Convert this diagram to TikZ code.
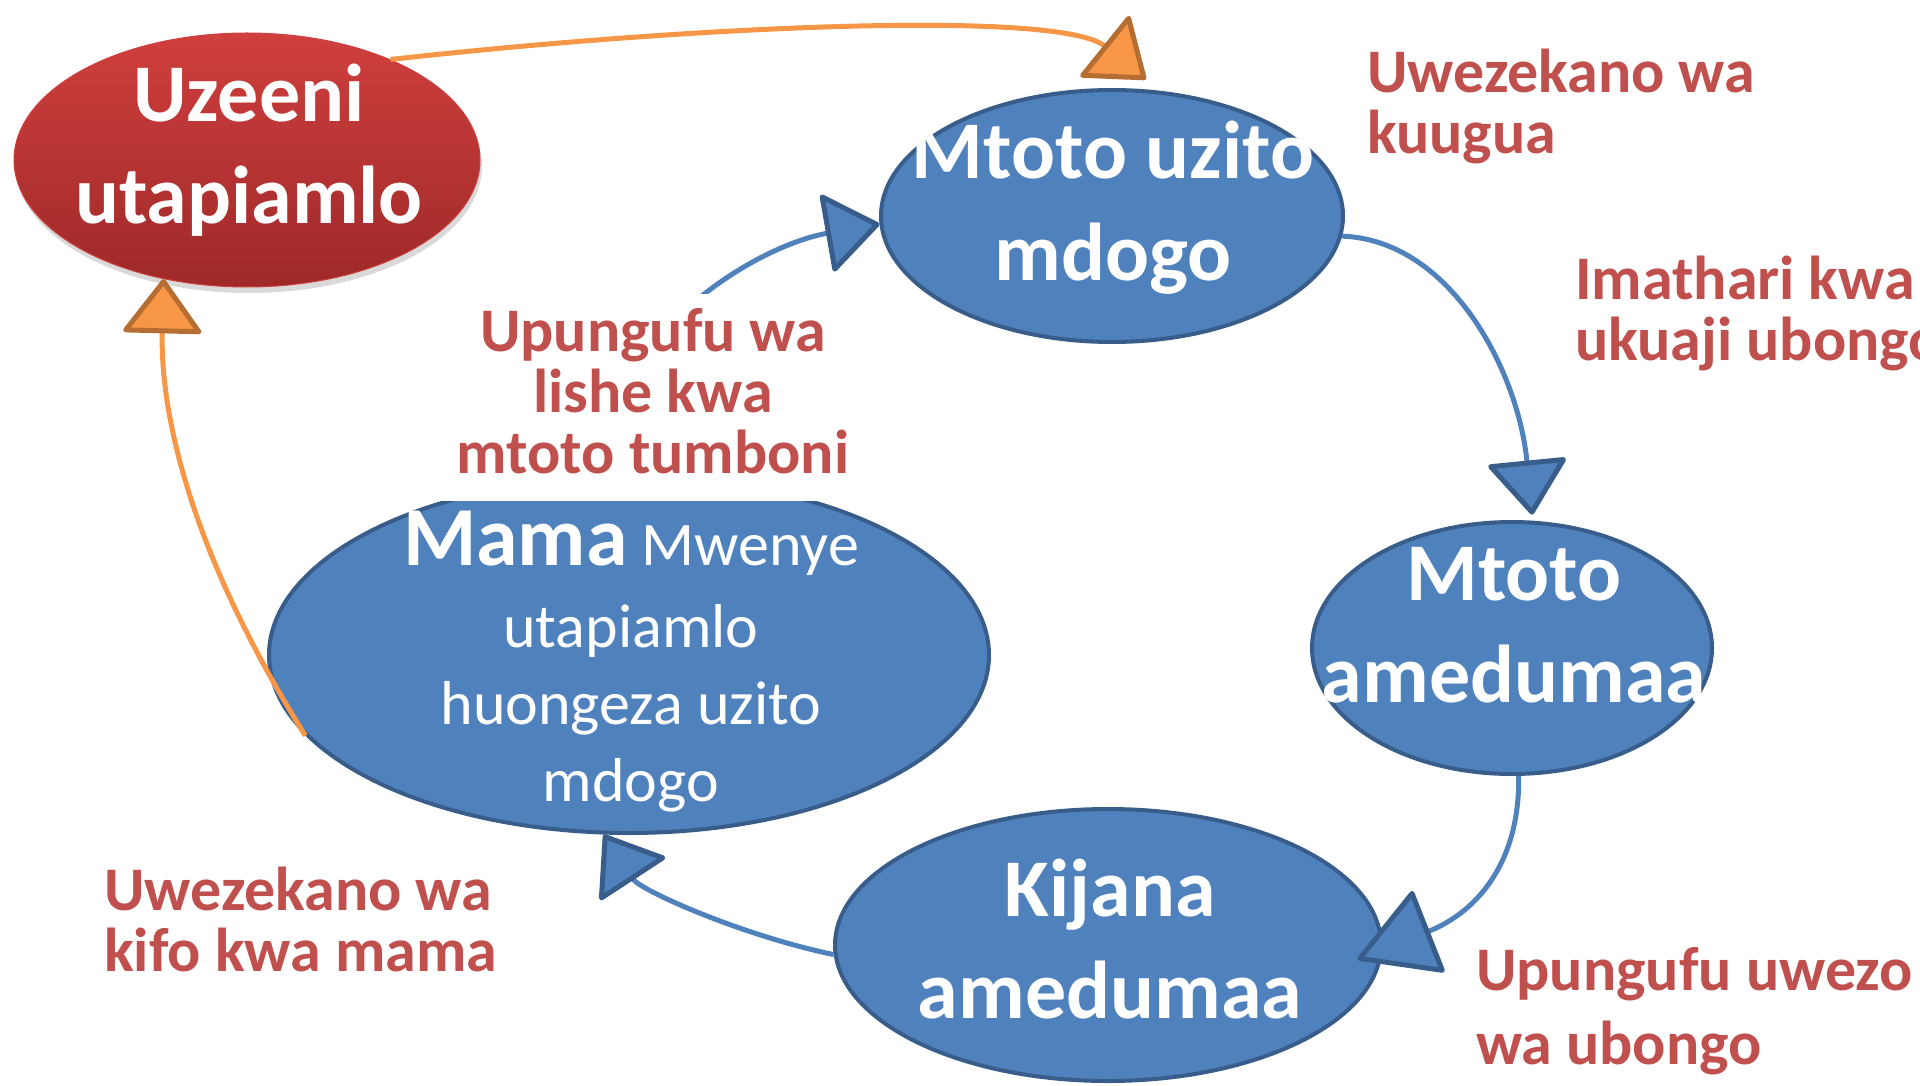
\documentclass[tikz,border=0pt]{standalone}
\usepackage{fontspec}
\setmainfont{Carlito}
\usetikzlibrary{shapes.geometric,arrows.meta,shadows}
\definecolor{blobfill}{HTML}{4F81BD}
\definecolor{blobline}{HTML}{385D8A}
\definecolor{agedtop}{HTML}{CF3F3D}
\definecolor{agedbottom}{HTML}{9E2929}
\definecolor{notered}{HTML}{C0504D}
\definecolor{agefill}{HTML}{F79646}
\definecolor{ageline}{HTML}{B66D31}

\begin{document}
\begin{tikzpicture}[x=1pt,y=-1pt,
    blob/.style={ellipse,draw=blobline,fill=blobfill,line width=4pt,inner sep=0pt},
    bigtxt/.style={text=white,align=center,anchor=base,inner sep=0pt,
      font=\fontsize{82}{102}\selectfont\bfseries},
    note/.style={text=notered,align=left,anchor=base west,inner sep=0pt,
      font=\fontsize{62}{61}\selectfont\bfseries}]
    \tikzstyle{bluelink}=[draw=blobfill,line width=5pt,
      -{Triangle[length=56pt,width=82pt,round,fill=blobfill,color=blobline]}]
    \tikzstyle{agelink}=[draw=agefill,line width=5pt,
      -{Triangle[length=56pt,width=82pt,round,fill=agefill,color=ageline]}]
    \useasboundingbox (0,0) rectangle (1920,1086);
    % the cycle
    \node[ellipse,inner sep=0pt,minimum width=466pt,minimum height=254pt,
      top color=agedtop,bottom color=agedbottom,draw=agedtop,line width=1pt,
      drop shadow={shadow xshift=2pt,shadow yshift=-6pt,opacity=0.3}] (uzeeni) at (247,160) {};
    \node[blob,minimum width=462pt,minimum height=252pt] (mdogo) at (1112,216) {};
    \node[blob,minimum width=400pt,minimum height=252pt] (amedumaa) at (1512,648) {};
    \node[blob,minimum width=546pt,minimum height=272pt] (kijana) at (1108,945) {};
    \node[blob,minimum width=720pt,minimum height=356pt] (mama) at (629,655) {};
    % text, base = last line
    \node[bigtxt] (uzeenitxt) at (249,224) {Uzeeni\\utapiamlo};
    \node[bigtxt] (mdogotxt) at (1113,280) {Mtoto uzito\\mdogo};
    \node[bigtxt] (amedumaatxt) at (1514,702) {Mtoto\\amedumaa};
    \node[bigtxt] (kijanatxt) at (1110,1018) {Kijana\\amedumaa};
    \node[bigtxt,font=\fontsize{62}{77}\selectfont] (mamatxt) at (631,801)
      {{\fontsize{84}{102}\selectfont\bfseries Mama} Mwenye\\[5pt]utapiamlo\\huongeza uzito\\mdogo};
    % arrows
    \draw[agelink] (uzeeni.35) .. controls (700,25) and (1060,10) .. ([yshift=10pt]mdogo.75);
    \draw[agelink] (mama.194) .. controls (195,560) and (160,420) .. (uzeeni.235);
    \draw[bluelink] (mama.100) .. controls (610,330) and (760,245) .. (mdogo.182);
    \draw[bluelink] (mdogo.-5) .. controls (1450,240) and (1518,370) .. ([yshift=6pt]amedumaa.81);
    \draw[bluelink,-{Triangle[length=80pt,width=90pt,round,fill=blobfill,color=blobline]}]
      (amedumaa.-87) .. controls (1520,870) and (1470,915) .. ([xshift=-24pt]kijana.-3);
    \draw[bluelink] (kijana.182) .. controls (740,935) and (640,890) .. (mama.262);
    % red notes
    \node[note] (kuugua) at (1367,154) {Uwezekano wa\\kuugua};
    \node[note] (ukuaji) at (1575,360) {Imathari kwa\\ukuaji ubongo};
    \node[note,fill=white,align=center,anchor=base,inner xsep=24pt,inner ysep=14pt,text depth=14pt]
      (tumboni) at (653,473) {Upungufu wa\\lishe kwa\\mtoto tumboni};
    \node[note] (kifo) at (104,971) {Uwezekano wa\\kifo kwa mama};
    \node[note,font=\fontsize{62}{74}\selectfont\bfseries] (uwezo) at (1476,1064)
      {Upungufu uwezo\\wa ubongo};
\end{tikzpicture}
\end{document}
